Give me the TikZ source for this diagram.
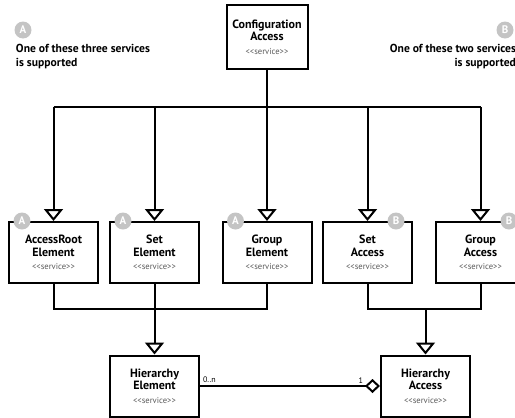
\documentclass[tikz,border=0pt]{standalone}
\usepackage{fontspec}
\setmainfont{PT Sans}
\usetikzlibrary{arrows.meta,positioning,calc}
\definecolor{badgegray}{HTML}{C4C4C4}
\definecolor{stereogray}{HTML}{5A5A5A}
\newcommand{\stereo}{\fontsize{8.6}{10}\selectfont\mdseries\color{stereogray}<{}<service>{}>}

\begin{document}
\begin{tikzpicture}[x=1pt,y=-1pt,line width=2pt,
  service/.style={draw,fill=white,minimum width=89pt,minimum height=61pt,align=center,
    font=\fontsize{12}{12.5}\selectfont\bfseries,inner sep=2pt},
  badge/.style={circle,fill=badgegray,text=white,minimum size=17pt,inner sep=0pt,
    font=\fontsize{11}{11}\selectfont\bfseries},
  gen/.style={-{Triangle[open,length=12pt,width=19pt]}},
  note/.style={inner sep=0pt,font=\fontsize{11.6}{14}\selectfont\bfseries}]
\useasboundingbox (0,0) rectangle (515,418);

% Top service
\node[service,minimum width=81pt,minimum height=64pt] (cfg) at (267,37) {Configuration\\Access\\[1pt]\stereo};
\coordinate (bus) at (267,107);
\coordinate (join) at (0,309);

% Realisations
\node[service] (are)  at (53.5,252.5)  {AccessRoot\\Element\\[1pt]\stereo};
\node[service] (sete) at (154.5,252.5) {Set\\Element\\[1pt]\stereo};
\node[service] (grpe) at (267,252.5)   {Group\\Element\\[1pt]\stereo};
\node[service] (seta) at (367.5,252.5) {Set\\Access\\[1pt]\stereo};
\node[service] (grpa) at (480.5,252.5) {Group\\Access\\[1pt]\stereo};

\node[service] (hie) at (154.5,386) {Hierarchy\\Element\\[1pt]\stereo};
\node[service] (hia) at (425.5,386) {Hierarchy\\Access\\[1pt]\stereo};

% Bus from the top
\draw (cfg) -- (bus);
\draw (are |- bus) -- (grpa |- bus);
\foreach \n in {are,sete,grpe,seta,grpa}
  \draw[gen] (\n |- bus) -- (\n);

% Joins below
\draw (are.south) |- (grpe |- join) -- (grpe.south);
\draw[gen] (sete.south) -- (hie);
\draw (seta.south) |- (grpa |- join) -- (grpa.south);
\draw[gen] (hia |- join) -- (hia);

% Aggregation
\draw[-{Diamond[open,length=15pt,width=14pt]}] (hie) -- (hia)
  node[pos=0,above right,inner sep=2pt,font=\fontsize{8}{9}\selectfont] {0..n}
  node[pos=1,above left,inner sep=2pt,xshift=-14pt,font=\fontsize{8}{9}\selectfont] {1};

% Badges
\foreach \n in {are,sete,grpe}
  \node[badge] at ([xshift=14pt]\n.north west) {A};
\foreach \n in {seta,grpa}
  \node[badge] at ([xshift=-17pt]\n.north east) {B};

% Notes
\node[badge] (na) at (23,30) {A};
\node[note,anchor=north west,align=left] (ta) at (15,43) {One of these three services\\is supported};
\node[badge] (nb) at (505,30) {B};
\node[note,anchor=north east,align=right] (tb) at (517,43) {One of these two services\\is supported};
\end{tikzpicture}
\end{document}
